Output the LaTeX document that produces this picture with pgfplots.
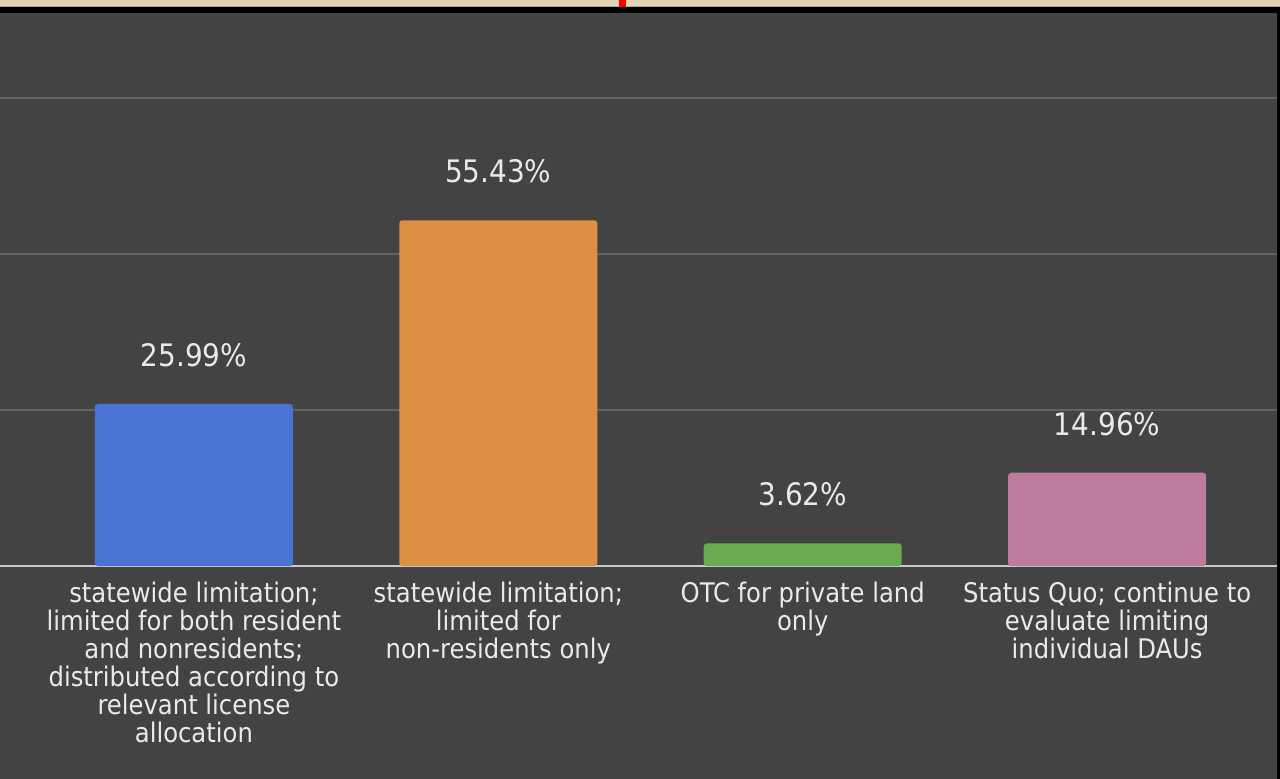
\documentclass[border=0pt]{standalone}
\usepackage{fontspec}
\setmainfont{DejaVu Sans Condensed}
\usepackage{pgfplots}
\pgfplotsset{compat=1.18}
\definecolor{bg}{HTML}{434343}
\definecolor{beige}{HTML}{E2D5B6}
\definecolor{tanline}{HTML}{B8A888}
\definecolor{gridc}{HTML}{646464}
\definecolor{basec}{HTML}{C8C8C8}
\definecolor{labc}{HTML}{EAEAEA}
\definecolor{c1}{HTML}{4A74D4}
\definecolor{c2}{HTML}{DB9141}
\definecolor{c3}{HTML}{6AAA50}
\definecolor{c4}{HTML}{BE7BA0}
\begin{document}
\begin{tikzpicture}
\useasboundingbox (0,0) rectangle (640pt,-389.5pt);
% page background
\fill[bg] (0,0) rectangle (640pt,-389.5pt);
\fill[beige] (0,0) rectangle (640pt,-3.5pt);
\fill[tanline] (0,-3pt) rectangle (640pt,-3.5pt);
\fill[black] (0,-3.5pt) rectangle (640pt,-6.5pt);
\fill[black] (638.5pt,-3.5pt) rectangle (640pt,-389.5pt);
\fill[red] (309.25pt,0) rectangle (312.75pt,-3.5pt);
\begin{axis}[
    at={(0pt,-6.5pt)}, anchor=north west,
    scale only axis,
    width=638.5pt, height=276.5pt,
    xmin=-0.637, xmax=3.558,
    ymin=0, ymax=88.69,
    axis line style={draw=none},
    major tick length=0pt,
    ytick={25,50,75}, yticklabels={},
    ymajorgrids,
    major grid style={gridc, line width=1pt},
    extra y ticks={0}, extra y tick labels={},
    extra y tick style={major grid style={basec, line width=1.2pt}},
    xtick={0,1,2,3},
    xticklabels={
        {statewide limitation;\\limited for both resident\\and nonresidents;\\distributed according to\\relevant license\\allocation},
        {statewide limitation;\\limited for\\non-residents only},
        {OTC for private land\\only},
        {Status Quo; continue to\\evaluate limiting\\individual DAUs}},
    xticklabel style={align=center, text=labc, yshift=-4.5pt,
        font=\fontsize{13.5}{14}\selectfont},
    ybar, bar width=99pt,
    point meta=explicit symbolic,
    nodes near coords,
    every node near coord/.append style={text=labc, anchor=center,
        yshift=24.5pt, font=\fontsize{15.5}{16}\selectfont},
    clip=false,
]
\addplot[fill=c1, draw=none, bar shift=0pt, rounded corners=1.5pt] coordinates {(0,25.99) [25.99\%]};
\addplot[fill=c2, draw=none, bar shift=0pt, rounded corners=1.5pt] coordinates {(1,55.43) [55.43\%]};
\addplot[fill=c3, draw=none, bar shift=0pt, rounded corners=1.5pt] coordinates {(2,3.62) [3.62\%]};
\addplot[fill=c4, draw=none, bar shift=0pt, rounded corners=1.5pt] coordinates {(3,14.96) [14.96\%]};
\end{axis}
\end{tikzpicture}
\end{document}
